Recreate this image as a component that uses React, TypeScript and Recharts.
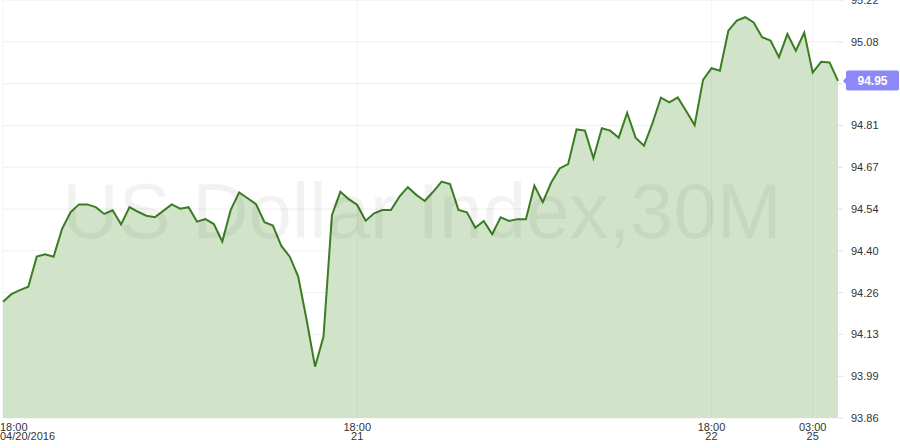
import React from 'react';
import { AreaChart, Area, XAxis, YAxis, CartesianGrid, ReferenceLine } from 'recharts';

const values: number[] = [
  94.238, 94.263, 94.276, 94.287, 94.385, 94.393, 94.385, 94.475, 94.529, 94.555,
  94.555, 94.546, 94.524, 94.536, 94.490, 94.546, 94.531, 94.518, 94.513, 94.534,
  94.555, 94.541, 94.546, 94.499, 94.507, 94.491, 94.434, 94.537, 94.594, 94.575,
  94.556, 94.497, 94.486, 94.420, 94.385, 94.320, 94.179, 94.027, 94.125, 94.520,
  94.596, 94.572, 94.553, 94.502, 94.526, 94.537, 94.537, 94.580, 94.611, 94.586,
  94.566, 94.596, 94.629, 94.621, 94.537, 94.529, 94.479, 94.501, 94.458, 94.513,
  94.501, 94.507, 94.507, 94.616, 94.562, 94.626, 94.672, 94.686, 94.799, 94.795,
  94.705, 94.803, 94.795, 94.772, 94.853, 94.772, 94.746, 94.819, 94.902, 94.887,
  94.903, 94.859, 94.813, 94.960, 94.998, 94.990, 95.120, 95.153, 95.164, 95.147,
  95.099, 95.088, 95.034, 95.109, 95.055, 95.114, 94.984, 95.019, 95.017, 94.957,
];

// x tick labels keyed by bar index: [time, date]
const xTickIndex: number[] = [0, 42, 84, 96];
const xTickTime: string[] = ['18:00', '18:00', '18:00', '03:00'];
const xTickDate: string[] = ['04/20/2016', '21', '22', '25'];

const yMin = 93.86;
const yMax = 95.22;
const yTickLabels: string[] = ['93.86', '93.99', '94.13', '94.26', '94.40', '94.54', '94.67', '94.81', '94.95', '95.08', '95.22'];
const lastLabel = '94.95';
const title = 'US Dollar Index,30M';

const yTicks = yTickLabels.map((_, i) => yMin + ((yMax - yMin) * i) / (yTickLabels.length - 1));
const data = values.map((v, i) => ({ i, v }));

const XTick = (props: any) => {
  const { x, payload } = props;
  const k = xTickIndex.indexOf(payload.value);
  if (k < 0) return null;
  const first = k === 0;
  return (
    <text
      x={first ? 0 : x}
      y={0}
      textAnchor={first ? 'start' : 'middle'}
      fontSize={11}
      fontFamily="Arial, 'Liberation Sans', sans-serif"
      fill="#333"
    >
      <tspan x={first ? 0 : x} y={431}>{xTickTime[k]}</tspan>
      <tspan x={first ? 0 : x} y={439.5}>{xTickDate[k]}</tspan>
    </text>
  );
};

const YTick = (props: any) => {
  const { x, y, index } = props;
  if (index === 8) {
    const bx = 846;
    const by = y - 13;
    return (
      <g>
        <path d={`M ${bx - 3} ${by + 10.5} L ${bx + 1} ${by + 6} L ${bx + 1} ${by + 15} Z`} fill="#8c89f6" />
        <rect x={bx} y={by} width={53} height={20} rx={2} fill="#8c89f6" />
        <text x={bx + 26.5} y={by + 14.5} textAnchor="middle" fontSize={12} fontWeight="bold"
          fontFamily="Arial, 'Liberation Sans', sans-serif" fill="#ffffff">{lastLabel}</text>
      </g>
    );
  }
  return (
    <text x={x} y={y + 4} textAnchor="start" fontSize={11}
      fontFamily="Arial, 'Liberation Sans', sans-serif" fill="#333">{yTickLabels[index]}</text>
  );
};

export default function App() {
  return (
    <div style={{ position: 'absolute', left: 0, top: 0, width: 900, height: 448, background: '#fff' }}>
      <AreaChart width={900} height={448} data={data} margin={{ top: 0, right: 0, bottom: 0, left: 3 }}>
        <CartesianGrid vertical={false} stroke="#f0f0f0" strokeWidth={1} />
        <XAxis dataKey="i" type="category" interval={0} axisLine={false} tickLine={false}
          height={30} tick={<XTick />} />
        <YAxis orientation="right" domain={[yMin, yMax]} ticks={yTicks} type="number"
          allowDataOverflow width={62} axisLine={false} tickSize={5} tickMargin={8}
          tickLine={{ stroke: '#e0e0e0' }} tick={<YTick />} interval={0} />
        <Area type="linear" dataKey="v" stroke="#3b7d23" strokeWidth={2} fill="#d1e4c9" fillOpacity={1}
          isAnimationActive={false} dot={false} activeDot={false} baseValue={yMin} />
        {xTickIndex.map((xi) => (
          <ReferenceLine key={xi} x={xi} stroke="#000" strokeOpacity={0.04} />
        ))}
        <ReferenceLine y={yMin} stroke="none"
          label={(p: any) => (
            <text x={422} y={238} textAnchor="middle" fontSize={78}
              fontFamily="Arial, 'Liberation Sans', sans-serif" fill="#000" fillOpacity={0.05}>{title}</text>
          )} />
      </AreaChart>
    </div>
  );
}
